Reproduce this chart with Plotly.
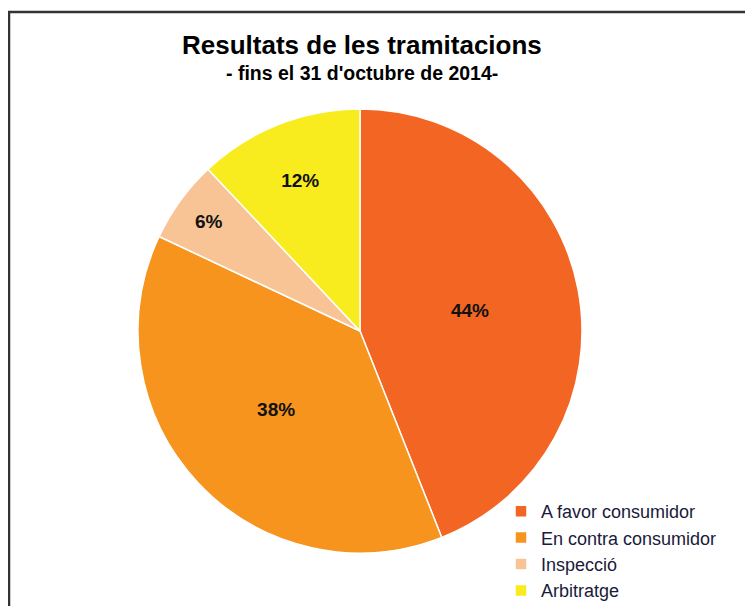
import plotly.graph_objects as go

categories = ["A favor consumidor", "En contra consumidor", "Inspecció", "Arbitratge"]
values = [44, 38, 6, 12]
colors = ["#F26522", "#F7941D", "#F8C496", "#F8EC1E"]

W, H = 753, 606
OFF = 8  # page body margin
cx, cy, r = 360 - OFF, 331 - OFF, 222

fig = go.Figure(go.Pie(
    labels=categories,
    values=values,
    sort=False,
    direction="clockwise",
    rotation=0,
    marker=dict(colors=colors, line=dict(color="white", width=1.5)),
    texttemplate="%{value}%",
    textposition="inside",
    insidetextorientation="horizontal",
    textfont=dict(family="Liberation Sans", size=19, color="#111111", weight="bold"),
    domain=dict(x=[(cx - r) / W, (cx + r) / W], y=[1 - (cy + r) / H, 1 - (cy - r) / H]),
    hoverinfo="label+percent",
))

fig.update_layout(
    width=W, height=H,
    margin=dict(l=0, r=0, t=0, b=0),
    paper_bgcolor="white",
    font=dict(family="Liberation Sans", color="black"),
    showlegend=True,
    legend=dict(
        x=(533 - 40) / W, y=1 - 485 / H, xanchor="left", yanchor="top",
        font=dict(size=18, color="#1a1a3a"),
        itemwidth=30,
        bgcolor="rgba(0,0,0,0)",
    ),
    annotations=[
        dict(text="<b>Resultats de les tramitacions</b>", x=(362 - OFF) / W, y=1 - (45 - OFF) / H,
             xref="paper", yref="paper", showarrow=False, xanchor="center", yanchor="middle",
             font=dict(size=26, color="black")),
        dict(text="<b>- fins el 31 d'octubre de 2014-</b>", x=(362 - OFF) / W, y=1 - (73 - OFF) / H,
             xref="paper", yref="paper", showarrow=False, xanchor="center", yanchor="middle",
             font=dict(size=19.5, color="black")),
    ],
    shapes=[
        dict(type="rect", xref="paper", yref="paper",
             x0=(9 - OFF) / W, x1=1.05, y0=-0.05, y1=1 - (12 - OFF) / H,
             line=dict(color="#333333", width=2.5), fillcolor="rgba(0,0,0,0)"),
    ],
)

fig.write_html("out.html")
